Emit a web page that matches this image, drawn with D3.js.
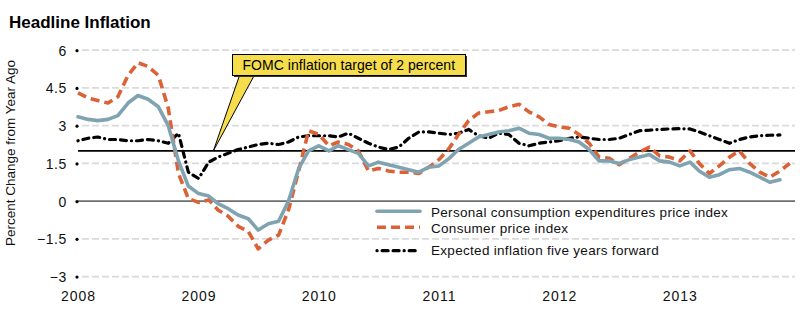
<!DOCTYPE html>
<html>
<head>
<meta charset="utf-8">
<script src="https://cdn.jsdelivr.net/npm/d3@7/dist/d3.min.js"></script>
<style>
  html, body { margin: 0; padding: 0; background: #fff; }
  svg { display: block; font-family: "Liberation Sans", Arial, sans-serif; }
</style>
</head>
<body>
<svg id="chart" width="800" height="322"></svg>
<script>
// Monthly year-over-year inflation, Jan 2008 onward
const startMonth = new Date(2008, 0, 1);

// Personal consumption expenditures price index (Jan 2008 – Nov 2013)
const pce = [
  3.35, 3.25, 3.2, 3.25, 3.4, 3.9, 4.2, 4.05, 3.75, 3.0, 1.6, 0.6,
  0.3, 0.2, -0.1, -0.3, -0.55, -0.7, -1.15, -0.9, -0.8, 0.0, 1.3, 2.0,
  2.2, 2.0, 2.2, 2.05, 1.9, 1.4, 1.55, 1.45, 1.35, 1.25, 1.15, 1.35,
  1.4, 1.7, 2.05, 2.3, 2.55, 2.65, 2.75, 2.8, 2.9, 2.7, 2.65, 2.5,
  2.5, 2.45, 2.35, 2.05, 1.6, 1.6, 1.5, 1.65, 1.75, 1.85, 1.6, 1.55,
  1.4, 1.55, 1.2, 0.95, 1.05, 1.25, 1.3, 1.15, 0.95, 0.75, 0.85
];

// Consumer price index (Jan 2008 – Dec 2013)
const cpi = [
  4.3, 4.1, 4.0, 3.9, 4.15, 5.0, 5.5, 5.35, 5.0, 3.7, 1.1, 0.1,
  -0.05, 0.05, -0.35, -0.6, -1.0, -1.2, -1.9, -1.55, -1.35, -0.35, 1.2, 2.8,
  2.65, 2.2, 2.35, 2.25, 2.0, 1.2, 1.3, 1.2, 1.15, 1.15, 1.1, 1.35,
  1.65, 2.1, 2.65, 3.2, 3.5, 3.55, 3.6, 3.75, 3.85, 3.55, 3.35, 3.05,
  2.95, 2.9, 2.65, 2.3, 1.75, 1.7, 1.45, 1.7, 1.95, 2.15, 1.8, 1.75,
  1.6, 2.0, 1.5, 1.1, 1.4, 1.75, 2.0, 1.5, 1.15, 0.95, 1.2, 1.5
];

// Expected inflation five years forward (Jan 2008 – Nov 2013)
const expected = [
  2.4, 2.5, 2.55, 2.45, 2.45, 2.4, 2.4, 2.45, 2.4, 2.3, 2.7, 1.15,
  0.9, 1.55, 1.75, 1.9, 2.05, 2.15, 2.25, 2.3, 2.25, 2.35, 2.55, 2.6,
  2.6, 2.6, 2.55, 2.7, 2.5, 2.3, 2.15, 2.05, 2.15, 2.5, 2.75, 2.75,
  2.7, 2.65, 2.7, 2.85, 2.6, 2.5, 2.7, 2.65, 2.3, 2.2, 2.3, 2.35,
  2.4, 2.5, 2.55, 2.5, 2.45, 2.45, 2.5, 2.65, 2.8, 2.82, 2.85, 2.87,
  2.88, 2.87, 2.75, 2.6, 2.45, 2.3, 2.45, 2.55, 2.6, 2.62, 2.63
];

const yearLabels = ["2008", "2009", "2010", "2011", "2012", "2013"];
const yTickValues = [6, 4.5, 3, 1.5, 0, -1.5, -3];
const targetRate = 2;

const seriesNames = [
  "Personal consumption expenditures price index",
  "Consumer price index",
  "Expected inflation five years forward"
];

const svg = d3.select("#chart");

const x = d3.scaleTime()
  .domain([new Date(2008, 0, 1), new Date(2014, 0, 1)])
  .range([78, 800]);
const y = d3.scaleLinear().domain([-3, 6]).range([276.6, 50.2]);

const plotLeft = 82, plotRight = 795;
const monthDate = i => d3.timeMonth.offset(startMonth, i);

// Title
svg.append("text")
  .attr("x", 9).attr("y", 28)
  .attr("font-size", 17).attr("font-weight", "bold")
  .attr("fill", "#000")
  .text("Headline Inflation");

// Y axis title
svg.append("text")
  .attr("transform", "translate(14.5,153) rotate(-90)")
  .attr("text-anchor", "middle")
  .attr("font-size", 13.5)
  .attr("fill", "#111")
  .text("Percent Change from Year Ago");

// Horizontal grid lines (dashed), zero line solid
const grid = svg.append("g");
yTickValues.forEach(v => {
  const gl = grid.append("line")
    .attr("x1", plotLeft).attr("x2", plotRight)
    .attr("y1", y(v)).attr("y2", y(v));
  if (v === 0) {
    gl.attr("x1", 78).attr("stroke", "#6e6e6e").attr("stroke-width", 1.6);
  } else {
    gl.attr("stroke", "#dadada").attr("stroke-width", 1.8)
      .attr("stroke-dasharray", "7,3");
  }
});

// Y tick dots and labels
const yAxis = d3.axisLeft(y).tickValues(yTickValues).tickSize(0)
  .tickFormat(d => (d < 0 ? "\u2212" + Math.abs(d) : String(d)));
const yAxisG = svg.append("g").attr("transform", "translate(77,0)").call(yAxis);
yAxisG.select(".domain").remove();
yAxisG.selectAll(".tick text")
  .attr("x", -10).attr("dy", "0.36em")
  .attr("font-family", "Liberation Sans, Arial, sans-serif")
  .attr("font-size", 14).attr("letter-spacing", "0.6px")
  .attr("fill", "#111");
yAxisG.selectAll(".tick").append("circle").attr("r", 1.6).attr("fill", "#000");

// X axis year labels
const xAxis = d3.axisBottom(x)
  .tickValues(yearLabels.map(s => new Date(+s, 0, 1)))
  .tickSize(0)
  .tickFormat((d, i) => yearLabels[i]);
const xAxisG = svg.append("g").attr("transform", "translate(0,290)").call(xAxis);
xAxisG.select(".domain").remove();
xAxisG.selectAll(".tick text")
  .attr("y", 0).attr("dy", "0.76em")
  .attr("font-family", "Liberation Sans, Arial, sans-serif")
  .attr("font-size", 14).attr("letter-spacing", "1px")
  .attr("fill", "#111");

// 2 percent target line
svg.append("line")
  .attr("x1", 78).attr("x2", plotRight)
  .attr("y1", y(targetRate)).attr("y2", y(targetRate))
  .attr("stroke", "#000").attr("stroke-width", 1.8);

const line = d3.line()
  .x((d, i) => x(monthDate(i)))
  .y(d => y(d));

const styles = [
  { data: pce, color: "#7fa3b1", width: 3.6, dash: null, cap: "round" },
  { data: cpi, color: "#db6136", width: 3.6, dash: "9,5", cap: "butt" },
  { data: expected, color: "#000", width: 3.2, dash: "0.1,5,6,5,6,5", cap: "round" }
];

// Draw expected line first, then CPI, then PCE on top
[styles[2], styles[1], styles[0]].forEach(s => {
  svg.append("path")
    .datum(s.data)
    .attr("d", line)
    .attr("fill", "none")
    .attr("stroke", s.color)
    .attr("stroke-width", s.width)
    .attr("stroke-linejoin", "round")
    .attr("stroke-linecap", s.cap)
    .attr("stroke-dasharray", s.dash);
});

// Legend
const legendRows = [
  { y: 211.2, ty: 217 },
  { y: 227.2, ty: 232.6 },
  { y: 250.7, ty: 255.3 }
];
styles.forEach((s, i) => {
  svg.append("line")
    .attr("x1", 377).attr("x2", 420)
    .attr("y1", legendRows[i].y).attr("y2", legendRows[i].y)
    .attr("stroke", s.color).attr("stroke-width", s.width)
    .attr("stroke-linecap", s.cap)
    .attr("stroke-dasharray", s.dash);
  svg.append("text")
    .attr("x", 431).attr("y", legendRows[i].ty)
    .attr("font-size", 13.5).attr("letter-spacing", "0.3px")
    .attr("fill", "#111")
    .text(seriesNames[i]);
});

// Callout for the FOMC target
const callout = svg.append("g");
const tipDate = new Date(2009, 1, 15);
callout.append("polygon")
  .attr("points", [[240, 74], [255, 74], [x(tipDate), y(targetRate)]].map(p => p.join(",")).join(" "))
  .attr("fill", "#f6dd4c").attr("stroke", "#000").attr("stroke-width", 1)
  .attr("stroke-linejoin", "miter");
callout.append("rect")
  .attr("x", 234).attr("y", 56).attr("width", 233).attr("height", 21)
  .attr("fill", "#333");
callout.append("rect")
  .attr("x", 232.5).attr("y", 54.5).attr("width", 233).attr("height", 21)
  .attr("fill", "#f6dd4c").attr("stroke", "#000").attr("stroke-width", 1);
callout.append("text")
  .attr("x", 242.5).attr("y", 70)
  .attr("font-size", 14).attr("letter-spacing", "0.05px")
  .attr("fill", "#000")
  .text("FOMC inflation target of 2 percent");
</script>
</body>
</html>
